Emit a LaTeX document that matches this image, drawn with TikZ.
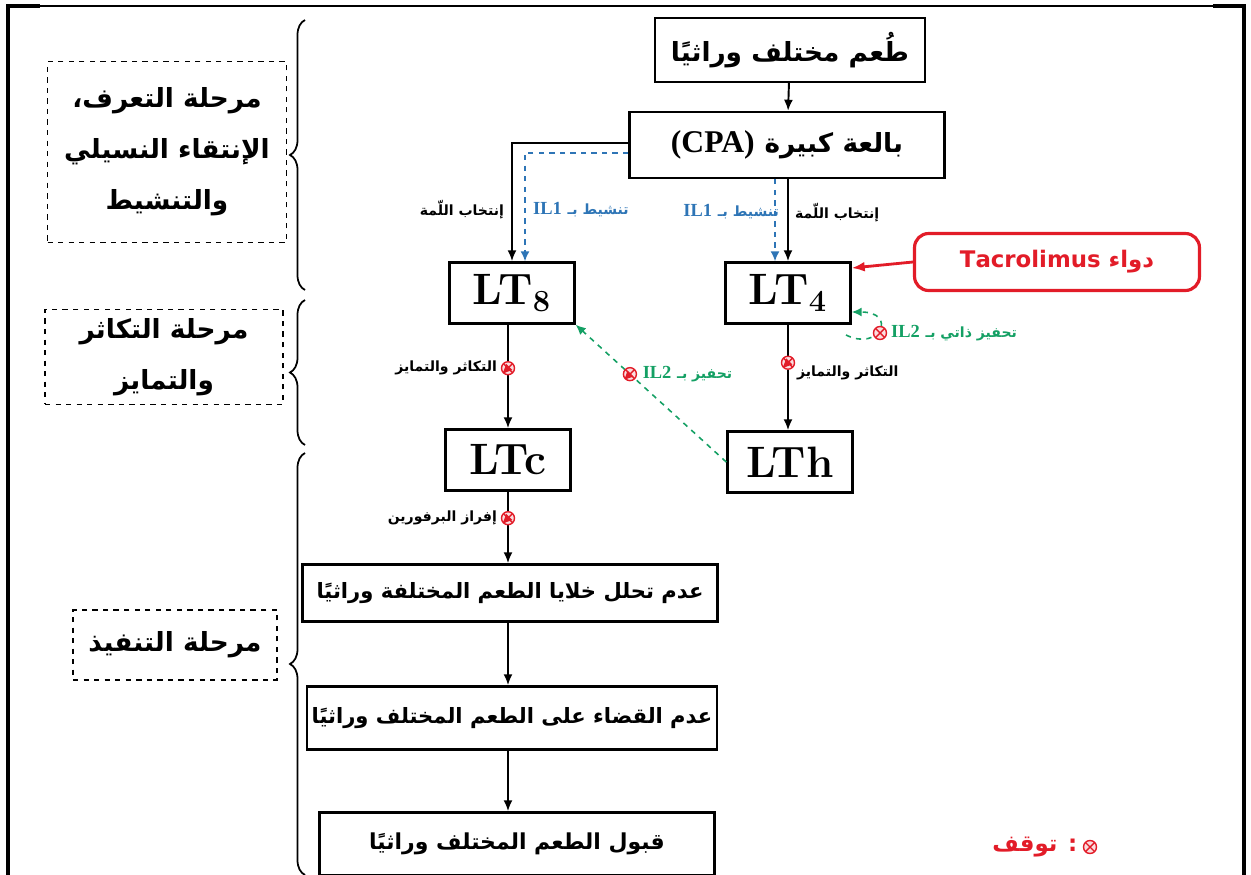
\documentclass[tikz,border=0pt]{standalone}
\usepackage{fontspec}
\newfontfamily\arabicfont[Script=Arabic]{DejaVu Sans}
\newfontfamily\latinfont{Liberation Serif}
\TeXXeTstate=1
\usetikzlibrary{positioning,arrows.meta,decorations.pathreplacing}
\definecolor{ilblue}{RGB}{46,117,182}
\definecolor{ilgreen}{RGB}{20,160,100}
\definecolor{stopred}{RGB}{226,28,40}
\newcommand{\artxt}[1]{{\arabicfont\beginR #1\endR}}
\newcommand{\ilname}[1]{{\latinfont\bfseries\fontsize{10.5}{12}\selectfont #1}}
\tikzset{
  flowarrow/.style={-{Latex[length=2.2mm,width=1.8mm]}, line width=1.1pt},
  cellbox/.style={draw, line width=1.4pt, inner sep=2pt, minimum width=2.5cm, minimum height=1.22cm, align=center, font=\bfseries\fontsize{25}{30}\selectfont},
  graftbox/.style={draw, line width=1.4pt, inner sep=2pt, minimum width=8.3cm, minimum height=1.2cm, align=center, font=\bfseries\fontsize{15}{18}\selectfont},
  phasebox/.style={draw, dashed, line width=0.8pt, align=center, font=\bfseries\fontsize{15}{29}\selectfont},
  drugbox/.style={draw=stopred, rounded corners=8pt, line width=1.8pt, minimum width=5.7cm, minimum height=1.14cm, text=stopred, font=\arabicfont\bfseries\fontsize{13}{16}\selectfont},
  bluedash/.style={dashed, ilblue, line width=0.9pt, -{Latex[length=2mm,width=1.8mm]}},
  greendash/.style={dashed, ilgreen, line width=0.9pt, -{Latex[length=2mm,width=1.8mm]}},
  steplabel/.style={font=\bfseries\fontsize{8}{10}\selectfont, inner sep=1pt},
  stopmark/.style={circle, solid, draw=stopred, fill=stopred!15, line width=0.8pt, minimum size=0.26cm, inner sep=0pt,
    path picture={\draw[stopred, solid, line width=0.8pt] (path picture bounding box.north west) -- (path picture bounding box.south east)
      (path picture bounding box.north east) -- (path picture bounding box.south west);}},
  phasebrace/.style={decorate, decoration={brace, amplitude=0.3cm}, line width=1pt}
}

\begin{document}
\begin{tikzpicture}[x=0.02cm, y=-0.02cm, >=Latex]
  \useasboundingbox (0,0) rectangle (1251,875);
  % frame
  \draw[line width=1pt] (8,875) -- (8,6) -- (1244,6) -- (1244,875);
  \draw[line width=2.5pt] (8,875) -- (8,6) -- (40,6);
  \draw[line width=2.5pt] (1213,6) -- (1244,6) -- (1244,875);

  % phases
  \node[phasebox, minimum width=4.78cm, minimum height=3.62cm] (recog) at (167,152) {\artxt{مرحلة التعرف،}\\ \artxt{الإنتقاء النسيلي}\\ \artxt{والتنشيط}};
  \node[phasebox, minimum width=4.76cm, minimum height=1.9cm] (prolif) at (164,357) {\artxt{مرحلة التكاثر}\\ \artxt{والتمايز}};
  \node[phasebox, minimum width=4.08cm, minimum height=1.4cm] (exec) at (175,645) {\artxt{مرحلة التنفيذ}};
  \draw[phasebrace] (305,290) -- (305,20);
  \draw[phasebrace] (305,445) -- (305,300);
  \draw[phasebrace] (305,875) -- (305,453);

  % main chain
  \node[graftbox, minimum width=5.4cm, minimum height=1.28cm] (graft) at (790,50) {\artxt{طُعم مختلف وراثيًا}};
  \node[graftbox, minimum width=6.3cm, minimum height=1.32cm] (cpa) at (787,145) {{\latinfont\bfseries\fontsize{18}{20}\selectfont(CPA)} \artxt{بالعة كبيرة}};
  \node[cellbox] (lt8) at (512,293) {LT\textsubscript{8}};
  \node[cellbox] (lt4) at (788,293) {LT\textsubscript{4}};
  \node[cellbox] (ltc) at (508,460) {LTc};
  \node[cellbox] (lth) at (790,462) {LTh};
  \node[graftbox, minimum width=8.3cm, minimum height=1.14cm, font=\bfseries\fontsize{12}{15}\selectfont] (nolysis) at (510,593) {\artxt{عدم تحلل خلايا الطعم المختلفة وراثيًا}};
  \node[graftbox, minimum width=8.2cm, minimum height=1.26cm, font=\bfseries\fontsize{12}{15}\selectfont] (nokill) at (512,718) {\artxt{عدم القضاء على الطعم المختلف وراثيًا}};
  \node[graftbox, minimum width=7.9cm, minimum height=1.26cm, font=\bfseries\fontsize{12.5}{15}\selectfont] (accept) at (517,844) {\artxt{قبول الطعم المختلف وراثيًا}};
  \node[drugbox] (tacro) at (1057,262) {Tacrolimus \artxt{دواء}};

  \draw[flowarrow] (graft) -- (cpa);
  \draw[flowarrow] ([yshift=0.04cm]cpa.west) -| (lt8.north);
  \draw[bluedash] ([yshift=-0.16cm]cpa.west) -| ([xshift=0.26cm]lt8.north);
  \draw[flowarrow] (lt4.north |- cpa.south) -- (lt4.north);
  \draw[bluedash] ([xshift=-0.26cm]lt4.north |- cpa.south) -- ([xshift=-0.26cm]lt4.north);
  \node[steplabel, anchor=east] (sel8) at (506,210) {\artxt{إنتخاب اللّمة}};
  \node[steplabel, anchor=west] (sel4) at (793,213) {\artxt{إنتخاب اللّمة}};
  \node[steplabel, text=ilblue, anchor=west] (act8) at (531,210) {\ilname{IL1} \artxt{تنشيط بـ}};
  \node[steplabel, text=ilblue, anchor=east] (act4) at (781,212) {\ilname{IL1} \artxt{تنشيط بـ}};

  \draw[flowarrow] (ltc.north |- lt8.south) -- node[stopmark, pos=0.42] (stop8) {} (ltc.north);
  \node[steplabel, left=1pt of stop8] {\artxt{التكاثر والتمايز}};
  \draw[flowarrow] (lt4.south) -- node[stopmark, pos=0.36] (stop4) {} (lt4.south |- lth.north);
  \node[steplabel, anchor=west] at ([xshift=0.14cm, yshift=-0.2cm]stop4.center) {\artxt{التكاثر والتمايز}};
  \draw[flowarrow] (ltc.south) -- node[stopmark, pos=0.37] (stopc) {} (ltc.south |- nolysis.north);
  \node[steplabel, left=1pt of stopc] {\artxt{إفراز البرفورين}};
  \draw[flowarrow] (nolysis.south -| ltc.south) -- (nokill.north -| ltc.south);
  \draw[flowarrow] (nokill.south -| ltc.south) -- (accept.north -| ltc.south);

  \draw[-{Latex[length=2.6mm,width=2mm]}, stopred, line width=1.6pt] (tacro.west) -- ([yshift=0.5cm]lt4.east);

  % IL2 links
  \draw[greendash] (lth.west) -- node[stopmark, pos=0.64] (stoph) {} (lt8.south east);
  \node[steplabel, text=ilgreen, right=2pt of stoph] {\ilname{IL2} \artxt{تحفيز بـ}};
  \coordinate (loopin) at (846,335);
  \draw[greendash] (loopin) .. controls (880,352) and (898,312) .. ([yshift=-0.38cm]lt4.east);
  \node[stopmark] (stopself) at (880,333) {};
  \node[steplabel, text=ilgreen, right=1pt of stopself] {\ilname{IL2} \artxt{تحفيز ذاتي بـ}};

  % legend
  \node[stopmark] (legmark) at (1090,847) {};
  \node[steplabel, text=stopred, left=2pt of legmark, font=\bfseries\fontsize{13}{16}\selectfont] {\artxt{: توقف}};
\end{tikzpicture}
\end{document}
